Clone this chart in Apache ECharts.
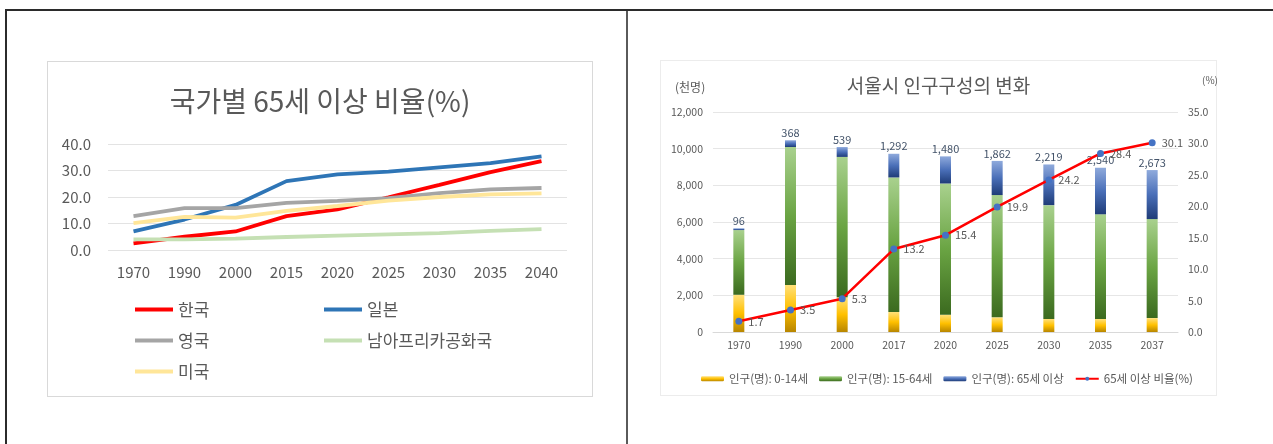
<!DOCTYPE html>
<html><head><meta charset="utf-8">
<script src="https://cdn.jsdelivr.net/npm/echarts@6/dist/echarts.min.js"></script>
<style>
html,body{margin:0;padding:0;background:#fff;width:1273px;height:444px;overflow:hidden;position:relative;}
.ln{position:absolute;}
.box{position:absolute;box-sizing:border-box;}
.ch{position:absolute;}
</style></head>
<body>
<div class="ln" style="left:5px;top:9px;width:1268px;height:2px;background:#2b2b2b"></div>
<div class="ln" style="left:5px;top:9px;width:2px;height:435px;background:#2b2b2b"></div>
<div class="ln" style="left:626px;top:11px;width:2px;height:433px;background:#5a5a5a"></div>
<div class="box" style="left:47px;top:61px;width:546px;height:336px;border:1px solid #d9d9d9"></div>
<div class="box" style="left:660px;top:60px;width:557px;height:336px;border:1px solid #ececec"></div>
<div id="c1" class="ch" style="left:47px;top:61px;width:546px;height:336px"></div>
<div id="c2" class="ch" style="left:660px;top:60px;width:557px;height:336px"></div>
<script>
// ---- Left chart data: 국가별 65세 이상 비율(%)
const years1 = ['1970','1990','2000','2015','2020','2025','2030','2035','2040'];
const korea = [2.5, 5.0, 7.0, 12.8, 15.3, 19.9, 24.6, 29.4, 33.5];
const japan = [7.0, 11.5, 17.0, 26.0, 28.5, 29.6, 31.2, 32.8, 35.3];
const uk = [12.8, 15.8, 15.8, 17.8, 18.5, 19.6, 21.5, 22.9, 23.4];
const southAfrica = [4.0, 4.0, 4.3, 4.9, 5.4, 5.9, 6.4, 7.2, 7.9];
const usa = [10.1, 12.5, 12.2, 14.8, 16.6, 18.6, 20.0, 21.0, 21.4];
const names1 = ['한국','일본','영국','남아프리카공화국','미국'];

// ---- Right chart data: 서울시 인구구성의 변화
const years2 = ['1970','1990','2000','2017','2020','2025','2030','2035','2037'];
const age0to14 = [2030, 2570, 1900, 1090, 940, 800, 710, 710, 760];
const age15to64 = [3530, 7520, 7650, 7340, 7160, 6670, 6210, 5710, 5400];
const age65plus = [96, 368, 539, 1292, 1480, 1862, 2219, 2540, 2673];
const ratio65 = [1.7, 3.5, 5.3, 13.2, 15.4, 19.9, 24.2, 28.4, 30.1];
const names2 = ['인구(명): 0-14세','인구(명): 15-64세','인구(명): 65세 이상','65세 이상 비율(%)'];

const FONT = '"Noto Sans CJK KR","Noto Sans",sans-serif';
const GRAY = '#595959';

const c1 = echarts.init(document.getElementById('c1'));
const colors1 = ['#ff0000','#2e75b6','#a5a5a5','#c5e0b4','#ffe699'];
const data1 = [korea, japan, uk, southAfrica, usa];
const legendPos = [[88,240],[277,240],[88,271],[277,271],[88,302]];
c1.setOption({
  animation:false,
  textStyle:{fontFamily:FONT},
  title:{text:'국가별 65세 이상 비율(%)',left:'center',top:21,
    textStyle:{fontFamily:FONT,fontSize:28,fontWeight:'normal',color:GRAY}},
  legend: names1.map((n,i)=>({data:[n],left:legendPos[i][0],top:legendPos[i][1],padding:0,
    icon:'rect',itemWidth:38,itemHeight:4,
    textStyle:{fontFamily:FONT,fontSize:17,color:GRAY}})),
  grid:{left:61,right:26,top:83,height:106,containLabel:false},
  xAxis:{type:'category',data:years1,boundaryGap:true,
    axisLine:{show:false},axisTick:{show:false},
    axisLabel:{fontFamily:FONT,fontSize:15,color:GRAY,margin:15}},
  yAxis:{type:'value',min:0,max:40,interval:10,
    axisLine:{show:false},axisTick:{show:false},
    splitLine:{lineStyle:{color:'#e3e3e3',width:1}},
    axisLabel:{fontFamily:FONT,fontSize:15,color:GRAY,margin:17,formatter:v=>v.toFixed(1)}},
  series: names1.map((n,i)=>({name:n,type:'line',data:data1[i],symbol:'none',
    lineStyle:{color:colors1[i],width:3.8},itemStyle:{color:colors1[i]}}))
});

const c2 = echarts.init(document.getElementById('c2'));
const grad = (a,b,c)=>new echarts.graphic.LinearGradient(0,0,0,1,[{offset:0,color:a},{offset:0.5,color:b},{offset:1,color:c}]);
const fmtN = v=>String(v).replace(/\B(?=(\d{3})+(?!\d))/g, ',');
c2.setOption({
  animation:false,
  textStyle:{fontFamily:FONT},
  title:[{text:'서울시 인구구성의 변화',left:'center',top:11,
      textStyle:{fontFamily:FONT,fontSize:19,fontWeight:'normal',color:GRAY}},
    {text:'(천명)',left:10,top:16,textStyle:{fontFamily:FONT,fontSize:12,fontWeight:'normal',color:GRAY}},
    {text:'(%)',left:537,top:10,textStyle:{fontFamily:FONT,fontSize:10,fontWeight:'normal',color:GRAY}}],
  legend:{data:names2,left:41,top:313,padding:0,itemWidth:23,itemHeight:5,itemGap:11,
    textStyle:{fontFamily:FONT,fontSize:11.5,color:GRAY}},
  grid:{left:53,right:39,top:52,height:220},
  xAxis:{type:'category',data:years2,boundaryGap:true,
    axisLine:{show:true,lineStyle:{color:'#d9d9d9'}},axisTick:{show:false},
    axisLabel:{fontFamily:FONT,fontSize:10.5,color:GRAY,margin:8}},
  yAxis:[{type:'value',min:0,max:12000,interval:2000,
      axisLine:{show:false},axisTick:{show:false},
      splitLine:{lineStyle:{color:'#e6e6e6'}},
      axisLabel:{fontFamily:FONT,fontSize:10.5,color:GRAY,margin:10,formatter:fmtN}},
    {type:'value',min:0,max:35,interval:5,
      axisLine:{show:false},axisTick:{show:false},splitLine:{show:false},
      axisLabel:{fontFamily:FONT,fontSize:10.5,color:GRAY,margin:10,formatter:v=>v.toFixed(1)}}],
  series:[
    {name:names2[0],type:'bar',stack:'p',data:age0to14,barWidth:11,
      itemStyle:{color:grad('#ffe07a','#ffc000','#b88600')}},
    {name:names2[1],type:'bar',stack:'p',data:age15to64,barWidth:11,
      itemStyle:{color:grad('#a9d18e','#6aa443','#3b6a1f')}},
    {name:names2[2],type:'bar',stack:'p',data:age65plus,barWidth:11,
      itemStyle:{color:grad('#8faadc','#4a6fb8','#1f3c78')},
      label:{show:true,position:'top',distance:2,fontFamily:FONT,fontSize:11,color:'#44546a',formatter:p=>fmtN(p.value)}},
    {name:names2[3],type:'line',yAxisIndex:1,data:ratio65,symbol:'circle',symbolSize:7,
      lineStyle:{color:'#ff0000',width:2.5},itemStyle:{color:'#4472c4'},
      label:{show:true,position:'right',distance:6,fontFamily:FONT,fontSize:11,color:GRAY,formatter:p=>p.value.toFixed(1)},
      z:5}
  ]
});
</script>
</body></html>
